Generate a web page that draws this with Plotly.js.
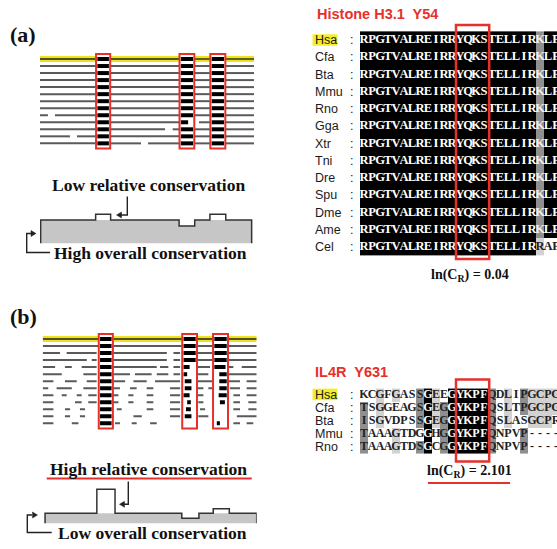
<!DOCTYPE html>
<html><head><meta charset="utf-8">
<script src="https://cdn.plot.ly/plotly-3.0.1.min.js"></script>
<style>html,body{margin:0;padding:0;background:#fff}#chart{width:557px;height:549px}</style>
</head><body><div id="chart"></div>
<script>
// ---------------- data ----------------
const speciesA = ['Hsa','Cfa','Bta','Mmu','Rno','Gga','Xtr','Tni','Dre','Spu','Dme','Ame','Cel'];
const seqA = ['RPGTVALREIRRYQKSTELLIRKLP','RPGTVALREIRRYQKSTELLIRKLP','RPGTVALREIRRYQKSTELLIRKLP',
  'RPGTVALREIRRYQKSTELLIRKLP','RPGTVALREIRRYQKSTELLIRKLP','RPGTVALREIRRYQKSTELLIRKLP',
  'RPGTVALREIRRYQKSTELLIRKLP','RPGTVALREIRRYQKSTELLIRKLP','RPGTVALREIRRYQKSTELLIRKLP',
  'RPGTVALREIRRYQKSTELLIRKLP','RPGTVALREIRRYQKSTELLIRKLP','RPGTVALREIRRYQKSTELLIRKLP',
  'RPGTVALREIRRYQKSTELLIRRAP'];
const shadeA = ['bbbbbbbbbbbbbbbbbbbbbbgbb','bbbbbbbbbbbbbbbbbbbbbbgbb','bbbbbbbbbbbbbbbbbbbbbbgbb',
  'bbbbbbbbbbbbbbbbbbbbbbgbb','bbbbbbbbbbbbbbbbbbbbbbgbb','bbbbbbbbbbbbbbbbbbbbbbgbb',
  'bbbbbbbbbbbbbbbbbbbbbbgbb','bbbbbbbbbbbbbbbbbbbbbbgbb','bbbbbbbbbbbbbbbbbbbbbbgbb',
  'bbbbbbbbbbbbbbbbbbbbbbgbb','bbbbbbbbbbbbbbbbbbbbbbgbb','bbbbbbbbbbbbbbbbbbbbbbgbb',
  'bbbbbbbbbbbbbbbbbbbbbblww'];
const speciesB = ['Hsa','Cfa','Bta','Mmu','Rno'];
const seqB = ['KCGFGASSGEEGYKPFQDLIPGCPG','TSGGEAGSGEGGYKPFQSLTPGCPG','ISGVDPSSGEGGYKPFQSLASGCPR',
  'TAAAGTDGGHGGYKPFQNPVP----','TAAAGTDSGCGGYKPFQNPVP----'];
const shadeB = ['wwlwlwwgblwbbbbbgwlwgllll','gwlwwwwgblgbbbbbgwlwgllll','gwlwwwwgblgbbbbbgwlwwlllw',
  'gwwwlwwwbwgbbbbbgwwwgwwww','gwwwlwwgbwgbbbbbgwwwgwwww'];
const siteColA = 12, siteColB = 12, siteLen = 4;
const titleA = 'Histone H3.1\u00a0 Y54', titleB = 'IL4R\u00a0 Y631';
const lnCR = ['0.04', '2.101'];

// schematic alignments (alignment position 0-100)
const sites = [[26, 33], [65, 72.3], [79.4, 86.8]];
const linesA = [
  [[0,100]],[[0,100]],[[0,100]],[[0,100]],[[0,100]],[[0,100]],[[0,100]],[[0,100]],
  [[0,3.7],[7,100]],
  [[0,70.1],[74.3,100]],
  [[0,58.4],[62,100]],
  [[0,14],[17.3,100]],
  [[0,47.2],[50.5,100]]
];
const marksA = [ // per row: [site1, site2, site3] fractional extent of black mark
  [[0,1],[0,1],[0,1]],[[0,1],[0,1],[0,1]],[[0,1],[0,1],[0,1]],[[0,1],[0,1],[0,1]],
  [[0,1],[0,1],[0,1]],[[0,1],[0,1],[0,1]],[[0,1],[0,1],[0,1]],[[0,1],[0,1],[0,1]],
  [[0,1],[0,1],[0,1]],[[0,1],[0,0.6],[0,1]],[[0,1],[0,1],[0,1]],[[0,1],[0,1],[0,1]],
  [[0,1],[0,1],[0,1]]
];
const linesB = [
  [[0,100]],
  [[0,100]],
  [[0,8.1],[11.2,25.2],[33,58],[61.1,64.2],[72,79.3],[86.4,100]],
  [[0,20.6],[22.9,25.2],[33,58],[61.1,64.2],[72,79.3],[86.4,100]],
  [[0,5.8],[10.4,13.6],[18.2,25.2],[33,53.3],[54.8,58.7],[61.1,64.2],[72,78.2],[86.4,89.1],[93,100]],
  [[0,8.9],[19,25.2],[33,40.8],[43.1,50.9],[53.3,58.7],[61.1,64.2],[72,77.4],[86.4,100]],
  [[0,5],[10.4,15.9],[20.6,25.2],[33,38.5],[42.4,48.6],[52.5,64.2],[72,79.3],[86.4,92.2],[95.3,100]],
  [[0,2.6],[6.5,13.6],[19,25.2],[33,36.1],[40.8,43.9],[48.6,51.7],[59.5,64.2],[72,75.1],[77.4,79.3],[87.5,92.2],[95.3,100]],
  [[0,5],[8.9,11.2],[15.9,18.2],[21.3,25.2],[33,35.4],[40,42.4],[48.6,51.7],[59.5,64.2],[72,75.1],[89.1,92.2],[95.3,100]],
  [[0,5],[15.1,18.2],[21.3,25.2],[33,35.4],[40,42.4],[48.6,51.7],[59.5,64.2],[72.7,75.1],[89.1,92.2],[96.1,100]],
  [[0,5],[10.4,12.8],[17.4,19.8],[34.6,36.9],[48.6,51.7],[59.5,64.2],[73.5,75.9],[89.1,92.2],[96.1,100]],
  [[0,5],[10.4,12.8],[17.4,19.8],[42.4,46.3],[59.5,64.2],[72.7,77.4],[90.7,100]],
  [[0,5],[13.6,16.7],[33.8,36.1],[41.6,43.9],[50.2,53.3],[89.1,92.2],[95.3,98.4]]
];
const marksB = [
  [[0,1],[0,1],[0,1]],[[0,1],[0,1],[0,1]],[[0,1],[0,1],[0,1]],[[0,1],[0,1],[0,1]],
  [[0,1],[0,0.5],[0,0.9]],[[0,1],[0,0.3],[0.4,1]],[[0,1],[0.1,0.65],[0.4,1]],
  [[0,1],[0.1,0.65],[0.4,1]],[[0,1],[0,0.5],[0.35,1]],[[0,1],[0.3,0.6],[0.45,0.85]],
  [[0,1],[0.2,0.6],null],[[0,1],[0.1,0.65],null],[[0,1],null,[0.2,0.45]]
];
// conservation profiles (step edges in alignment position, levels)
const profAedges = [0.3, 26, 33, 65, 72.3, 79.4, 86.8, 98.9];
const profAlevels = [4, 5, 4, 3, 4, 5, 4];
const profAoverall = 4;
const profBedges = [1.1, 25.3, 33.8, 65, 73, 79.7, 87.2, 100];
const profBlevels = [2, 6.8, 2, 1, 2, 2.9, 2];
const profBoverall = 2;

// ---------------- layout helpers ----------------
const W = 557, H = 549;
const dX = (a, b) => [a / W, b / W];
const dY = (top, bot) => [1 - bot / H, 1 - top / H];
const PX = x => x / W, PY = y => 1 - y / H;
const RED = '#e5302b';
function axis(domain, range, anchor) {
  return {domain, range, anchor, visible: false, fixedrange: true, showgrid: false, zeroline: false};
}
const serif = 'Liberation Serif', sans = 'Liberation Sans';

const traces = [];
const shapes = [];
const annotations = [];

function subtract(seg, cuts) {
  let parts = [seg];
  cuts.forEach(([c0, c1]) => {
    const next = [];
    parts.forEach(([a, b]) => {
      if (b <= c0 || a >= c1) { next.push([a, b]); return; }
      if (a < c0) next.push([a, c0]);
      if (b > c1) next.push([c1, b]);
    });
    parts = next;
  });
  return parts;
}

function schematic(lines, marks, xa, ya) {
  const gx = [], gy = [], bx = [], by = [];
  lines.forEach((segs, r) => {
    if (r === 0) return;
    segs.forEach(s => subtract(s, sites).forEach(([a, b]) => { gx.push(a, b, null); gy.push(r, r, null); }));
  });
  const yx = [], yy = [];
  lines[0].forEach(s => subtract(s, sites).forEach(([a, b]) => { yx.push(a, b, null); yy.push(0, 0, null); }));
  traces.push({x: yx, y: yy, xaxis: xa, yaxis: ya, mode: 'lines', line: {color: '#ece21e', width: 6}, hoverinfo: 'skip', showlegend: false});
  traces.push({x: yx, y: yy, xaxis: xa, yaxis: ya, mode: 'lines', line: {color: '#55522a', width: 1.8}, hoverinfo: 'skip', showlegend: false});
  traces.push({x: gx, y: gy, xaxis: xa, yaxis: ya, mode: 'lines', line: {color: '#5a5a5a', width: 2}, hoverinfo: 'skip', showlegend: false});
  marks.forEach((row, r) => {
    row.forEach((m, i) => {
      if (!m) return;
      const [s, e] = sites[i];
      const w = (e - s) - 1.6;
      bx.push(s + 0.8 + m[0] * w, s + 0.8 + m[1] * w, null); by.push(r, r, null);
    });
  });
  traces.push({x: bx, y: by, xaxis: xa, yaxis: ya, mode: 'lines', line: {color: '#000', width: 4}, hoverinfo: 'skip', showlegend: false});
  sites.forEach(([s, e]) => shapes.push({type: 'rect', xref: xa, yref: ya, x0: s + 0.2, x1: e - 0.2, y0: -0.72, y1: 12.72,
    line: {color: RED, width: 2}, layer: 'above'}));
}

function profile(edges, levels, overall, xa, ya) {
  const ox = [edges[0]], oy = [0], fx = [edges[0]], fy = [0];
  levels.forEach((lv, i) => {
    ox.push(edges[i], edges[i + 1]); oy.push(lv, lv);
    const f = Math.min(lv, overall);
    fx.push(edges[i], edges[i + 1]); fy.push(f, f);
  });
  ox.push(edges[edges.length - 1]); oy.push(0);
  fx.push(edges[edges.length - 1]); fy.push(0);
  traces.push({x: fx, y: fy, xaxis: xa, yaxis: ya, mode: 'lines', fill: 'toself', fillcolor: '#c6c6c6',
    line: {width: 0}, hoverinfo: 'skip', showlegend: false});
  traces.push({x: ox, y: oy, xaxis: xa, yaxis: ya, mode: 'lines', line: {color: '#333', width: 1.5}, hoverinfo: 'skip', showlegend: false});
}

const shadeCode = {w: 0, l: 1, g: 2, b: 3};
function alignment(seqs, shades, xa, ya, textColors, fsize) {
  const z = shades.map(s => s.split('').map(c => shadeCode[c]));
  const cols = seqs[0].split('').map((_, i) => i);
  const rows = seqs.map((_, i) => i);
  traces.push({type: 'heatmap', z, x: cols, y: rows, xaxis: xa, yaxis: ya, zmin: 0, zmax: 3, showscale: false,
    colorscale: [[0, '#ffffff'], [1 / 3, '#d2d2d2'], [2 / 3, '#8f8f8f'], [1, '#000000']], hoverinfo: 'skip'});
  const tx = [], ty = [], tt = [], tc = [];
  seqs.forEach((s, r) => s.split('').forEach((ch, c) => {
    tx.push(c); ty.push(r); tt.push(ch); tc.push(textColors[shades[r][c]]);
  }));
  traces.push({x: tx, y: ty, text: tt, mode: 'text', xaxis: xa, yaxis: ya, textposition: 'middle center',
    textfont: {family: serif, size: fsize, color: tc, weight: 'bold'}, hoverinfo: 'skip', showlegend: false, cliponaxis: true});
}

// ---------------- panel (a) ----------------
schematic(linesA, marksA, 'x', 'y');
profile(profAedges, profAlevels, profAoverall, 'x2', 'y2');
alignment(seqA, shadeA, 'x5', 'y5', {b: '#ffffff', g: '#f0f0f0', l: '#222', w: '#222'}, 12.5);
// ---------------- panel (b) ----------------
schematic(linesB, marksB, 'x3', 'y3');
profile(profBedges, profBlevels, profBoverall, 'x4', 'y4');
alignment(seqB, shadeB, 'x6', 'y6', {b: '#ffffff', g: '#222', l: '#222', w: '#222'}, 12);

shapes.push({type: 'rect', xref: 'x5', yref: 'y5', x0: siteColA - 0.5, x1: siteColA + siteLen - 0.35,
  y0: -0.87, y1: seqA.length - 0.31, line: {color: RED, width: 2.5}, layer: 'above'});
shapes.push({type: 'rect', xref: 'x6', yref: 'y6', x0: siteColB - 0.5, x1: siteColB + siteLen - 0.35,
  y0: -1.2, y1: seqB.length + 0.15, line: {color: RED, width: 2.5}, layer: 'above'});
traces.push({x: [siteColB], y: [-2.0], xaxis: 'x6', yaxis: 'y6', mode: 'markers', cliponaxis: false,
  marker: {color: RED, size: 8}, hoverinfo: 'skip', showlegend: false});

function labels(species, ya, hlTop, hlBot) {
  species.forEach((sp, r) => {
    annotations.push({text: sp, xref: 'paper', yref: ya, x: PX(313), y: r, xanchor: 'left', yanchor: 'middle',
      showarrow: false, font: {family: sans, size: 12.5, color: '#1a1a1a'}});
    annotations.push({text: ':', xref: 'paper', yref: ya, x: PX(351), y: r, xanchor: 'center', yanchor: 'middle',
      showarrow: false, font: {family: sans, size: 12.5, color: '#1a1a1a'}});
  });
  shapes.push({type: 'rect', xref: 'paper', yref: 'paper', x0: PX(312.5), x1: PX(337.5), y0: PY(hlBot), y1: PY(hlTop),
    fillcolor: '#f2ee2c', line: {width: 0}, layer: 'below'});
}
labels(speciesA, 'y5', 34.3, 45.7);
labels(speciesB, 'y6', 388.6, 400.2);

function txt(t, x, y, size, opts = {}) {
  annotations.push(Object.assign({text: t, xref: 'paper', yref: 'paper', x: PX(x), y: PY(y), xanchor: 'center',
    yanchor: 'middle', showarrow: false, font: {family: serif, size, color: '#111', weight: 'bold'}}, opts));
}
txt('(a)', 23, 34, 22);
txt('(b)', 23, 316, 22);
txt('Low relative conservation', 148.5, 184.5, 17.5);
txt('High overall conservation', 150, 252.5, 17.5);
txt('High relative conservation', 148, 468.5, 17.5);
txt('Low overall conservation', 152.5, 532.5, 17.5);
txt(titleA, 315, 14, 14.5, {xanchor: 'left', font: {family: sans, size: 14.5, color: RED, weight: 'bold'}});
txt(titleB, 313, 372, 14.5, {xanchor: 'left', font: {family: sans, size: 14.5, color: RED, weight: 'bold'}});
txt('ln(C<sub>R</sub>) = ' + lnCR[0], 469.5, 275, 14);
txt('ln(C<sub>R</sub>) = ' + lnCR[1], 469.5, 471, 14);

function path(pts, opts = {}) {
  const d = pts.map((p, i) => (i ? 'L' : 'M') + PX(p[0]).toFixed(5) + ',' + PY(p[1]).toFixed(5)).join(' ');
  shapes.push(Object.assign({type: 'path', xref: 'paper', yref: 'paper', path: d, line: {color: '#222', width: 1.4}}, opts));
}
function headLeft(x, y) { path([[x, y], [x + 5, y - 3], [x + 5, y + 3], [x, y]], {fillcolor: '#222', line: {color: '#222', width: 0.5}}); }
function headRight(x, y) { path([[x, y], [x - 5, y - 3], [x - 5, y + 3], [x, y]], {fillcolor: '#222', line: {color: '#222', width: 0.5}}); }
path([[127.3, 196.5], [127.3, 215], [120, 215]]); headLeft(116.5, 215);
path([[31, 233.5], [26.7, 233.5], [26.7, 252.5], [50, 252.5]]); headRight(36, 233.5);
path([[128.3, 481.5], [128.3, 504.3], [123, 504.3]]); headLeft(119.5, 504.3);
path([[32, 515], [27.3, 515], [27.3, 532.5], [51.7, 532.5]]); headRight(37.5, 515);
path([[46.7, 478.5], [251.7, 478.5]], {line: {color: RED, width: 2}});
path([[428, 483], [510, 483]], {line: {color: RED, width: 2}});

const rowPitchS = 7.03;
const layout = {
  width: W, height: H, margin: {l: 0, r: 0, t: 0, b: 0}, paper_bgcolor: '#fff', plot_bgcolor: 'rgba(0,0,0,0)',
  showlegend: false,
  xaxis: axis(dX(40, 254), [0, 100], 'y'),
  yaxis: axis(dY(50, 152), [(152 - 59) / rowPitchS, (50 - 59) / rowPitchS], 'x'),
  xaxis2: axis(dX(40, 254), [0, 100], 'y2'),
  yaxis2: axis(dY(205, 244), [-(244 - 243.3) / 5.8, (243.3 - 205) / 5.8], 'x2'),
  xaxis3: axis(dX(42.7, 256.7), [0, 100], 'y3'),
  yaxis3: axis(dY(330, 432), [(432 - 339) / rowPitchS, (330 - 339) / rowPitchS], 'x3'),
  xaxis4: axis(dX(42.7, 256.7), [0, 100], 'y4'),
  yaxis4: axis(dY(484, 524), [-(524 - 523.3) / 5, (523.3 - 484) / 5], 'x4'),
  xaxis5: axis(dX(360, 557), [-0.5, 24.125], 'y5'),
  yaxis5: axis(dY(20, 262), [(262 - 40) / 17.25, (20 - 40) / 17.25], 'x5'),
  xaxis6: axis(dX(360, 557), [-0.5, 24.125], 'y6'),
  yaxis6: axis(dY(376, 466), [(466 - 395) / 12.9, (376 - 395) / 12.9], 'x6'),
  shapes, annotations
};
Plotly.newPlot('chart', traces, layout, {staticPlot: true, displayModeBar: false});
</script></body></html>
